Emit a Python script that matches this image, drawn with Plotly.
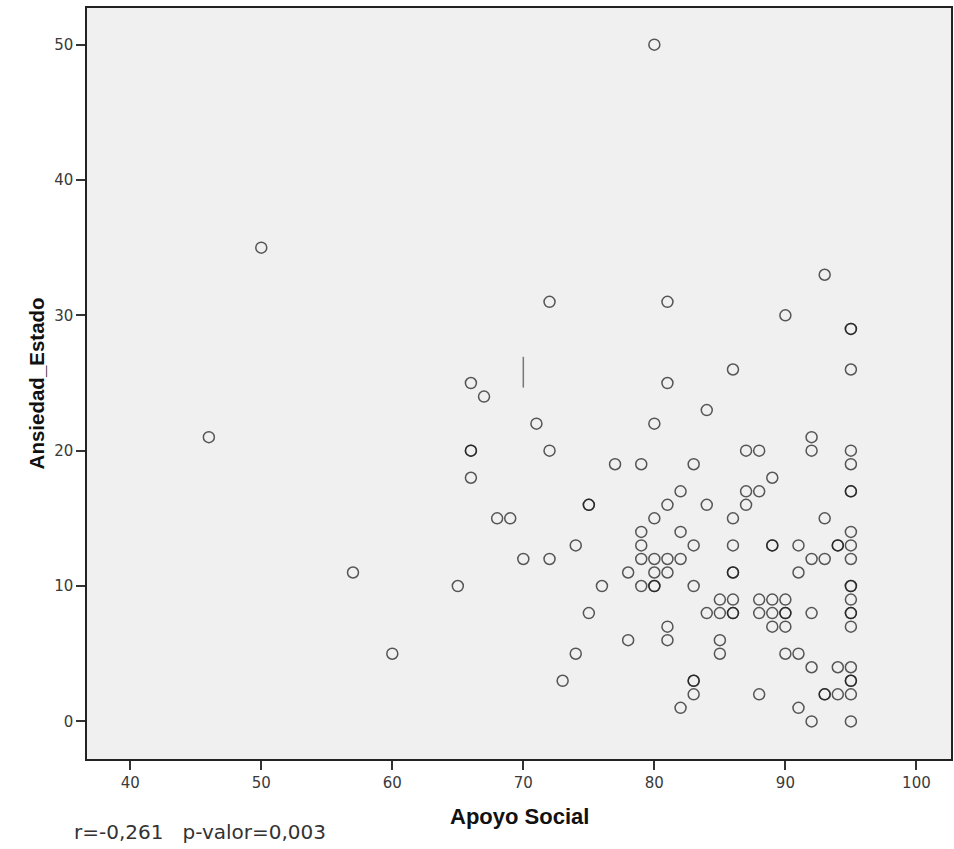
import plotly.graph_objects as go

# Apoyo Social (x) and Ansiedad_Estado (y); repeated pairs are overlapping cases
apoyo = [80, 50, 46, 93, 72, 81, 90, 95, 95, 66, 67, 81, 86, 95,
         84, 80, 71,
         66, 66, 72, 87, 88, 92, 92, 95,
         66, 77, 79, 83, 95,
         89, 82, 87, 88, 95, 95,
         75, 75, 81, 84, 87,
         68, 69, 80, 86, 93,
         79, 82, 95,
         74, 79, 83, 86, 89, 89, 91, 94, 94, 95,
         70, 72, 79, 80, 81, 82, 92, 93, 95,
         57, 78, 80, 81, 86, 86, 91,
         65, 76, 79, 80, 80, 83, 95, 95,
         85, 86, 88, 89, 90, 95,
         75, 84, 85, 86, 86, 88, 89, 90, 90, 92, 95, 95,
         81, 89, 90, 95,
         78, 81, 85,
         60, 74, 85, 90, 91,
         92, 94, 95,
         73, 83, 83, 95, 95,
         83, 88, 93, 93, 94, 95,
         82, 91,
         92, 95]
ansiedad = [50, 35, 21, 33, 31, 31, 30, 29, 29, 25, 24, 25, 26, 26,
            23, 22, 22,
            20, 20, 20, 20, 20, 21, 20, 20,
            18, 19, 19, 19, 19,
            18, 17, 17, 17, 17, 17,
            16, 16, 16, 16, 16,
            15, 15, 15, 15, 15,
            14, 14, 14,
            13, 13, 13, 13, 13, 13, 13, 13, 13, 13,
            12, 12, 12, 12, 12, 12, 12, 12, 12,
            11, 11, 11, 11, 11, 11, 11,
            10, 10, 10, 10, 10, 10, 10, 10,
            9, 9, 9, 9, 9, 9,
            8, 8, 8, 8, 8, 8, 8, 8, 8, 8, 8, 8,
            7, 7, 7, 7,
            6, 6, 6,
            5, 5, 5, 5, 5,
            4, 4, 4,
            3, 3, 3, 3, 3,
            2, 2, 2, 2, 2, 2,
            1, 1,
            0, 0]

# stray vertical mark visible in the original chart
mark_x = [70]
mark_y = [25.8]

x_ticks = [40, 50, 60, 70, 80, 90, 100]
y_ticks = [0, 10, 20, 30, 40, 50]

x_title = "Apoyo Social"
y_title = "Ansiedad_Estado"
stats_text = "r=-0,261   p-valor=0,003"

title_font = dict(family="Liberation Sans, Arial, sans-serif", size=21, color="#111111")

fig = go.Figure()
fig.add_trace(go.Scatter(
    x=apoyo, y=ansiedad, mode="markers",
    marker=dict(symbol="circle-open", size=11, color="rgba(25,25,25,0.72)",
                line=dict(width=1.5, color="rgba(25,25,25,0.72)")),
    showlegend=False, hoverinfo="x+y"))
fig.add_trace(go.Scatter(
    x=mark_x, y=mark_y, mode="markers",
    marker=dict(symbol="line-ns", size=22, color="#777777",
                line=dict(width=1.5, color="#777777")),
    showlegend=False, hoverinfo="skip"))

axis_common = dict(showgrid=False, zeroline=False,
                   showline=True, linecolor="#222222", linewidth=1.5, mirror=True,
                   ticks="outside", ticklen=9, tickwidth=1.5, tickcolor="#333333",
                   tickfont=dict(family="DejaVu Sans", size=15, color="#3a3a3a"))

fig.update_layout(
    width=954, height=849,
    margin=dict(l=87, r=1, t=8, b=90),
    paper_bgcolor="white", plot_bgcolor="#F0F0F0",
    font=dict(family="DejaVu Sans", color="#333333"),
    xaxis=dict(range=[36.7, 102.64], tickvals=x_ticks, **axis_common),
    yaxis=dict(range=[-2.78, 52.71], tickvals=y_ticks, **axis_common),
    annotations=[
        dict(text="<b>" + x_title + "</b>", xref="paper", yref="paper",
             x=0.5, y=-0.0768, xanchor="center", yanchor="middle",
             showarrow=False, font=dict(title_font, size=22)),
        dict(text="<b>" + y_title + "</b>", xref="paper", yref="paper",
             x=-0.058, y=0.5, xanchor="center", yanchor="middle", textangle=-90,
             showarrow=False, font=dict(title_font, size=20.5)),
        dict(text=stats_text, xref="paper", yref="paper",
             x=-0.017, y=-0.0975, xanchor="left", yanchor="middle",
             showarrow=False, font=dict(family="DejaVu Sans", size=20, color="#333333")),
    ],
)

fig.write_html("out.html")
